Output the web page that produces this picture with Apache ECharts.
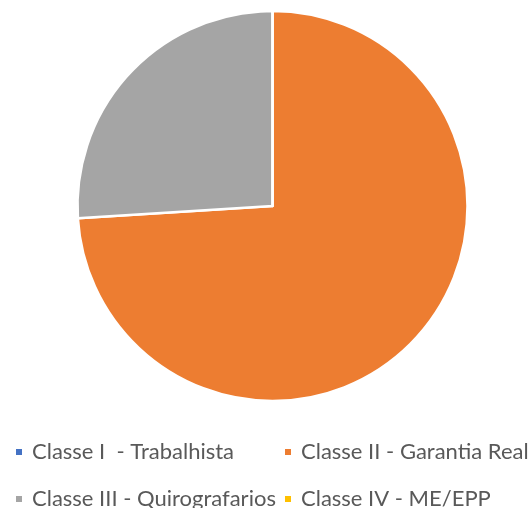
<!DOCTYPE html>
<html>
<head>
<meta charset="utf-8">
<script src="https://cdn.jsdelivr.net/npm/echarts@6/dist/echarts.min.js"></script>
<style>
  html, body { margin: 0; padding: 0; background: #fff; }
  #chart { width: 532px; height: 508px; }
</style>
</head>
<body>
<div id="chart"></div>
<script>
const categories = ['Classe I  - Trabalhista', 'Classe II - Garantia Real', 'Classe III - Quirografarios', 'Classe IV - ME/EPP'];
const values = [0, 74, 26, 0];
const colors = ['#4472C4', '#ED7D31', '#A5A5A5', '#FFC000'];

const chart = echarts.init(document.getElementById('chart'));

// one legend per item so the two columns line up like the original
const legendPos = [[14, 441], [283, 441], [14, 488], [283, 488]];
const legends = categories.map((name, i) => ({
  data: [name],
  left: legendPos[i][0],
  top: legendPos[i][1],
  icon: 'rect',
  itemWidth: 8,
  itemHeight: 8,
  itemGap: 0,
  padding: 0,
  selectedMode: false,
  textStyle: { fontFamily: 'Lato', fontSize: 22, color: '#595959', padding: [0, 0, 0, 4] }
}));

chart.setOption({
  animation: false,
  color: colors,
  legend: legends,
  series: [{
    type: 'pie',
    center: [272.5, 206],
    radius: 195,
    startAngle: 90,
    label: { show: false },
    labelLine: { show: false },
    emphasis: { disabled: true },
    itemStyle: { borderColor: '#fff', borderWidth: 2.5 },
    data: categories.map((name, i) => ({ name: name, value: values[i] }))
  }]
});
</script>
</body>
</html>
